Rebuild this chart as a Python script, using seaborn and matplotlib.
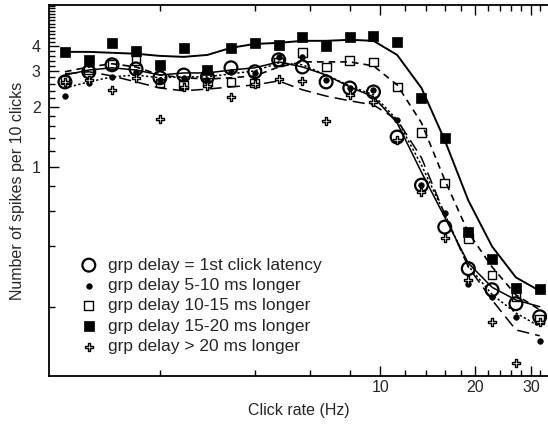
import matplotlib
matplotlib.use("Agg")
import matplotlib.pyplot as plt
import matplotlib.ticker as mticker
import seaborn as sns
import numpy as np
import pandas as pd

# Click rates (Hz), quarter-octave steps
rate = [1.0, 1.19, 1.41, 1.68, 2.0, 2.38, 2.83, 3.36, 4.0, 4.76, 5.66,
        6.73, 8.0, 9.51, 11.3, 13.5, 16.0, 19.0, 22.6, 26.9, 32.0]

labels = ["grp delay = 1st click latency",
          "grp delay 5-10 ms longer",
          "grp delay 10-15 ms longer",
          "grp delay 15-20 ms longer",
          "grp delay > 20 ms longer"]

# measured points
pts_latency = [2.66, 2.99, 3.24, 3.09, 2.79, 2.88, 2.82, 3.13, 2.99, 3.43, 3.16,
               2.66, 2.48, 2.37, 1.41, 0.81, 0.50, 0.31, 0.243, 0.207, 0.178]
pts_5_10 = [2.26, 2.63, 2.82, 2.99, 2.72, 2.79, 2.72, 2.99, 2.95, 3.55, 3.55,
            2.72, 2.48, 2.42, 1.72, 0.81, 0.59, 0.26, 0.224, 0.178, 0.135]
pts_10_15 = [2.72, 3.05, 3.24, 3.39, 2.63, 2.57, 2.66, 2.66, 2.63, 3.35, 3.72,
             3.16, 3.39, 3.35, 2.51, 1.48, 0.83, 0.437, 0.288, 0.224, 0.172]
pts_15_20 = [3.76, 3.43, 4.17, 3.80, 3.24, 3.94, 3.05, 3.94, 4.17, 4.07, 4.47,
             4.03, 4.47, 4.52, 4.22, 2.21, 1.40, 0.473, 0.347, 0.248, 0.245]
pts_gt20 = [2.66, 2.72, 2.43, 2.79, 1.74, 2.51, 2.54, 2.24, 2.60, 2.75, 2.69,
            1.70, 2.29, 2.11, 1.36, 0.75, 0.44, 0.272, 0.168, 0.104, 0.168]

# smoothed fit curves
fit_latency = [2.88, 3.05, 3.13, 3.05, 2.88, 2.95, 2.95, 3.05, 3.13, 3.35, 3.16,
               2.88, 2.51, 2.24, 1.66, 0.94, 0.56, 0.33, 0.25, 0.216, 0.20]
fit_5_10 = [2.48, 2.66, 2.82, 2.88, 2.79, 2.82, 2.82, 2.92, 3.02, 3.31, 3.24,
            2.88, 2.54, 2.29, 1.72, 1.02, 0.58, 0.32, 0.23, 0.186, 0.159]
fit_10_15 = [2.99, 3.16, 3.28, 3.16, 2.88, 2.79, 2.75, 2.79, 2.85, 3.16, 3.35,
             3.35, 3.35, 3.20, 2.57, 1.66, 0.86, 0.47, 0.316, 0.229, 0.193]
fit_15_20 = [3.76, 3.76, 3.72, 3.68, 3.59, 3.55, 3.63, 3.94, 4.12, 4.17, 4.27,
             4.27, 4.32, 4.27, 3.63, 2.48, 1.36, 0.68, 0.40, 0.28, 0.24]
fit_gt20 = [2.92, 2.99, 2.85, 2.66, 2.48, 2.40, 2.45, 2.51, 2.57, 2.69, 2.43,
            2.26, 2.14, 2.04, 1.72, 1.11, 0.58, 0.316, 0.216, 0.153, 0.143]

x_major = [10, 20, 30]
x_minor = [2, 4, 6, 8, 12, 14, 16, 18, 22, 24, 26, 28, 32]
y_major = [1, 2, 3, 4]

sns.set_style("ticks")
plt.rcParams["font.family"] = ["Liberation Sans", "DejaVu Sans"]

fig = plt.figure(figsize=(5.48, 4.30), dpi=100)
ax = fig.add_axes([49 / 548, 1 - 376 / 430, 1 - 49 / 548, (376 - 5) / 430])

pts = [pts_latency, pts_5_10, pts_10_15, pts_15_20, pts_gt20]
fits = [fit_latency, fit_5_10, fit_10_15, fit_15_20, fit_gt20]
line_styles = ["-", (0, (1.5, 1.5)), (0, (4, 3)), "-", (0, (8, 4))]
line_widths = [1.1, 1.1, 1.2, 1.4, 1.1]

for fit, ls, lw in zip(fits, line_styles, line_widths):
    sns.lineplot(x=rate, y=fit, ax=ax, color="black", linestyle=ls,
                 linewidth=lw, legend=False)

styles = [
    dict(marker="o", s=85, facecolor="none", edgecolor="black", linewidth=1.6),
    dict(marker="o", s=16, facecolor="black", edgecolor="black", linewidth=0.5),
    dict(marker="s", s=40, facecolor="none", edgecolor="black", linewidth=1.0),
    dict(marker="s", s=48, facecolor="black", edgecolor="black", linewidth=0.5),
    dict(marker="P", s=40, facecolor="white", edgecolor="black", linewidth=1.0),
]
handles = []
for p, st, lab in zip(pts, styles, labels):
    sc = ax.scatter(rate, p, zorder=4, label=lab, **st)
    handles.append(sc)

ax.set_xscale("log")
ax.set_yscale("log")
ax.set_xlim(0.89, 34)
ax.set_ylim(0.09, 6.45)

ax.xaxis.set_major_locator(mticker.FixedLocator(x_major))
ax.xaxis.set_major_formatter(mticker.FixedFormatter([str(v) for v in x_major]))
ax.xaxis.set_minor_locator(mticker.FixedLocator(x_minor))
ax.xaxis.set_minor_formatter(mticker.NullFormatter())

y_minor = [round(0.2 * k, 1) for k in range(1, 33) if round(0.2 * k, 1) not in (1.0, 2.0, 3.0, 4.0)]
ax.yaxis.set_major_locator(mticker.FixedLocator(y_major))
ax.yaxis.set_major_formatter(mticker.FixedFormatter([str(v) for v in y_major]))
ax.yaxis.set_minor_locator(mticker.FixedLocator(y_minor))
ax.yaxis.set_minor_formatter(mticker.NullFormatter())

ax.tick_params(which="both", direction="in", top=True, right=False,
               labelsize=11.5, color="black", width=1.0)
ax.tick_params(which="major", length=7)
ax.tick_params(axis="x", which="major", pad=3)
ax.tick_params(axis="y", which="major", pad=6)
ax.tick_params(which="minor", length=4)
for s in ["left", "bottom", "top"]:
    ax.spines[s].set_linewidth(1.3)
    ax.spines[s].set_color("black")
ax.spines["right"].set_visible(False)

ax.set_xlabel("Click rate (Hz)", fontsize=11.5, labelpad=6)
ax.set_ylabel("Number of spikes per 10 clicks", fontsize=11.5, labelpad=5)

leg = ax.legend(handles=handles, loc="upper left", bbox_to_anchor=(0.045, 0.338),
                frameon=False, fontsize=12.5, labelspacing=0.3,
                handletextpad=0.5, handlelength=1.2, borderaxespad=0)

fig.savefig("out.png", dpi=100)
